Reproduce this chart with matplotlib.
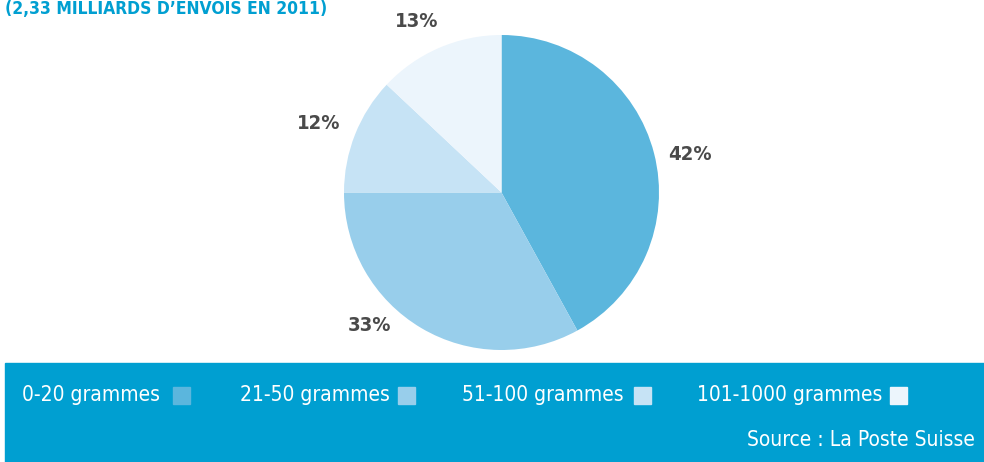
import matplotlib.pyplot as plt
from matplotlib.patches import Rectangle
import numpy as np

# Share of letters by weight class
categories = ["0-20 grammes", "21-50 grammes", "51-100 grammes", "101-1000 grammes"]
shares = [42, 33, 12, 13]
colors = ["#5bb6dd", "#98ceeb", "#c6e3f5", "#ecf5fc"]

title = "(2,33 MILLIARDS D\u2019ENVOIS EN 2011)"
source = "Source : La Poste Suisse"

band_color = "#009fd1"
label_color = "#4a4a4a"
FONT = ["DejaVu Sans"]


def main():
    plt.rcParams["font.family"] = FONT
    W, H = 984, 462
    fig = plt.figure(figsize=(W / 100, H / 100), dpi=100)

    # Pie in a square axes placed in pixel units.
    cx, cy, r = 501.5, 192.5, 157.5
    ax = fig.add_axes([(cx - r) / W, 1 - (cy + r) / H, 2 * r / W, 2 * r / H])
    wedges, _ = ax.pie(shares, colors=colors, startangle=90, counterclock=False,
                       radius=1, wedgeprops=dict(linewidth=0))
    ax.set_xlim(-1, 1)
    ax.set_ylim(-1, 1)
    ax.axis("off")

    # Percent labels outside the wedges, nudged a little to clear the band.
    nudges = [-3, -14, 1, 3]
    dists = [1.22, 1.19, 1.24, 1.21]
    for w, val, nd, d in zip(wedges, shares, nudges, dists):
        ang = np.deg2rad((w.theta1 + w.theta2) / 2 + nd)
        ax.text(d * np.cos(ang), d * np.sin(ang), f"{val}%", ha="center", va="center",
                fontsize=14.5, fontweight="bold", fontstretch="condensed",
                color=label_color, clip_on=False)

    # Title at top left
    fig.text(5 / W, 1 - 9 / H, title, ha="left", va="center", fontsize=12.5,
             fontweight="bold", fontstretch="condensed", color=band_color)

    # Legend band at the bottom
    fig.patches.append(Rectangle((5 / W, 0), 1 - 5 / W, (H - 363) / H,
                                 transform=fig.transFigure, color=band_color, zorder=0))
    text_x = [22, 240, 462, 697]
    box_x = [173, 398, 634, 890]
    for name, col, tx, bx in zip(categories, colors, text_x, box_x):
        fig.text(tx / W, 1 - 395 / H, name, ha="left", va="center", fontsize=15,
                 fontstretch="condensed", color="white")
        fig.patches.append(Rectangle((bx / W, 1 - 404 / H), 17 / W, 17 / H,
                                     transform=fig.transFigure, color=col, zorder=1))
    fig.text(975 / W, 1 - 440 / H, source, ha="right", va="center", fontsize=15,
             fontstretch="condensed", color="white")

    fig.savefig("out.png", dpi=100)


if __name__ == "__main__":
    main()
